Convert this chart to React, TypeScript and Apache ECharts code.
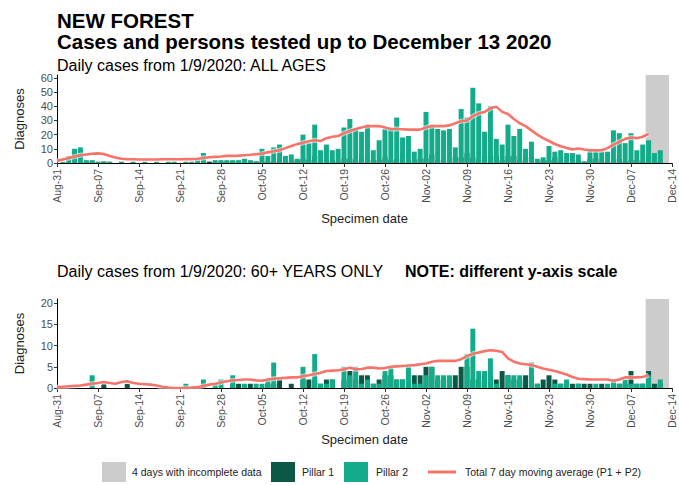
import React, { useEffect, useRef } from 'react';
import * as echarts from 'echarts';

// Day index 0 = 31 Aug 2020
const tickLabels = ['Aug-31','Sep-07','Sep-14','Sep-21','Sep-28','Oct-05','Oct-12','Oct-19','Oct-26','Nov-02','Nov-09','Nov-16','Nov-23','Nov-30','Dec-07','Dec-14'];

// ALL AGES
const allPillar1 = [
  0,0,0,0,0,1,1,
  0,1,0,0,0,0,0,
  0,0,0,0,0,0,0,
  0,0,0,0,0,1,0,
  1,1,1,1,1,1,1,
  1,1,1,2,1,1,2,
  3,2,5,1,2,2,1,
  3,3,2,6,3,2,2,
  4,2,3,6,2,2,3,
  3,6,2,3,2,4,4,
  7,4,2,5,5,5,2,
  5,5,2,4,4,1,2,
  2,4,1,1,1,2,1,
  3,3,1,1,2,3,1,
  2,2,1,4,1,1,0,
];
const allPillar2 = [
  0,1,5,10,11,2,2,
  1,1,1,0,1,0,1,
  0,1,0,1,0,1,1,
  0,1,1,2,7,0,2,
  2,2,2,2,3,2,1,
  10,5,11,13,5,6,3,
  20,14,27,9,13,9,10,
  25,31,24,22,27,9,16,
  24,24,32,18,19,8,10,
  36,27,24,23,24,11,38,
  32,53,42,22,40,17,13,
  27,19,24,10,15,3,4,
  12,8,9,7,7,6,1,
  9,9,8,8,23,21,14,
  21,9,13,16,7,9,0,
];
const allMovingAvg = [
  1.5,2.5,3.5,4.5,5.5,6,6.5,
  6.8,6.3,5,3.8,3,2.7,2.6,
  2.5,2.5,2.5,2.5,2.6,2.6,2.6,
  2.6,2.7,2.7,3,3.5,4,4.3,
  4.6,5,5,5.2,5.5,5.8,6.2,
  6.6,7.5,8.3,9,10.5,12,13.3,
  14.3,15.3,16,15.5,17.5,18.5,19,
  21,22.5,24,25,26,26,26,
  25,24,24,23.8,23.5,23.5,23.5,
  25,26,26,26,26.5,28,29.5,
  30,33,35,36,38.5,39.7,36,
  34.5,31,28,26,23,20,17.5,
  15.5,13.4,11.8,10.5,9.6,10.2,9.5,
  9,9,9,10.5,13,15,17,
  18,17.5,18.5,20.5,
];

// 60+ ONLY
const oldPillar1 = [
  0,0,0,0,0,0,0,
  0,1,0,0,0,1,0,
  0,0,0,0,0,0,0,
  0,0,0,0,0,0,0,
  0,0,1,1,0,1,0,
  0,1,1,2,0,1,0,
  2,2,2,1,2,2,0,
  2,4,2,3,3,1,2,
  3,3,2,2,2,3,3,
  5,5,2,2,2,3,5,
  5,2,2,3,3,2,4,
  3,2,2,3,3,1,2,
  3,2,1,1,1,1,1,
  1,0,1,0,1,1,1,
  4,1,1,4,1,1,0,
];
const oldPillar2 = [
  0,0,0,0,0,0,3,
  0,0,0,0,0,0,0,
  0,0,0,0,0,0,0,
  0,1,0,0,2,0,1,
  2,0,3,0,1,0,1,
  1,2,6,0,0,0,0,
  5,0,8,1,1,2,0,
  5,3,5,1,2,1,1,
  4,5,2,2,5,1,1,
  3,5,3,3,3,0,0,
  8,14,4,4,7,1,0,
  3,3,3,0,6,1,0,
  0,1,1,2,0,1,0,
  0,1,0,1,2,1,2,
  1,1,1,3,0,2,0,
];
const oldMovingAvg = [
  0.2,0.3,0.4,0.5,0.6,0.8,1.0,
  1.2,1.4,1.2,1.0,1.4,1.6,1.2,
  1.0,0.9,0.8,0.6,0.3,0.1,0,
  0,0,0.1,0.2,0.5,0.8,1.0,
  1.3,1.6,1.8,1.9,2.0,2.0,1.8,
  1.7,2.0,2.2,2.3,2.4,2.5,2.5,
  2.8,3.0,3.3,3.6,4.0,4.1,4.2,
  4.4,4.8,4.4,4.5,4.8,4.8,4.6,
  4.7,5.0,5.1,5.2,5.3,5.4,5.6,
  5.8,6.2,6.4,6.4,6.4,6.4,6.8,
  7.5,8.1,8.4,8.7,8.9,8.8,8.5,
  7.0,6.2,5.8,5.6,5.4,5.0,4.6,
  4.3,4.0,3.6,3.2,2.6,2.2,2.1,
  2.0,2.0,2.0,2.0,1.7,2.0,2.5,
  2.5,2.5,2.6,3.0,
];

const incompleteRange = [100.5, 104.5];
const topTicks = [0, 10, 20, 30, 40, 50, 60];
const bottomTicks = [0, 5, 10, 15, 20];

const DARK = '#0b5846';
const TEAL = '#13ab8a';
const GREY = '#cccccc';
const RED = '#f8746a';
const FONT = '"Liberation Sans", Arial, sans-serif';

const pairs = (arr: number[]) => arr.map((v, i) => [i, v]);

function buildSeries(idx: number, p1: number[], p2: number[], ma: number[], yMax: number) {
  return [
    {
      name: 'Pillar 1', type: 'bar', xAxisIndex: idx, yAxisIndex: idx, stack: 's' + idx,
      barWidth: 5, data: pairs(p1), itemStyle: { color: DARK }, z: 2,
      markArea: {
        silent: true, z: 1,
        itemStyle: { color: GREY },
        data: [[{ xAxis: incompleteRange[0], yAxis: 0 }, { xAxis: incompleteRange[1], yAxis: yMax }]],
      },
    },
    {
      name: 'Pillar 2', type: 'bar', xAxisIndex: idx, yAxisIndex: idx, stack: 's' + idx,
      barWidth: 5, data: pairs(p2), itemStyle: { color: TEAL }, z: 2,
    },
    {
      name: 'halo', type: 'line', xAxisIndex: idx, yAxisIndex: idx, data: pairs(ma),
      symbol: 'none', lineStyle: { color: 'rgba(255,255,255,0.55)', width: 5 }, z: 4,
    },
    {
      name: 'Total 7 day moving average (P1 + P2)', type: 'line', xAxisIndex: idx, yAxisIndex: idx,
      data: pairs(ma), symbol: 'none', lineStyle: { color: RED, width: 2.6 }, z: 5,
    },
  ];
}

function xAxis(idx: number, gap: number) {
  return {
    type: 'value', gridIndex: idx, min: 0, max: 105, interval: 7,
    name: 'Specimen date', nameLocation: 'middle', nameGap: gap,
    nameTextStyle: { fontSize: 13, color: '#222', fontFamily: FONT },
    axisLine: { show: true, lineStyle: { color: '#000', width: 1 } },
    axisTick: { show: true, length: 4, lineStyle: { color: '#333' } },
    splitLine: { show: false },
    axisLabel: {
      rotate: 90, fontSize: 10.5, color: '#4d4d4d', margin: 6, fontFamily: FONT,
      formatter: (v: number) => tickLabels[Math.round(v / 7)] ?? '',
    },
  };
}

function yAxis(idx: number, max: number, ticks: number[]) {
  return {
    type: 'value', gridIndex: idx, min: 0, max,
    name: 'Diagnoses', nameLocation: 'middle', nameGap: 31, nameRotate: 90,
    nameTextStyle: { fontSize: 13, color: '#222', fontFamily: FONT },
    axisLine: { show: true, lineStyle: { color: '#000', width: 1 } },
    axisTick: { show: true, length: 3, lineStyle: { color: '#333' }, customValues: ticks },
    splitLine: { show: false },
    axisLabel: { fontSize: 11, color: '#4d4d4d', margin: 4, fontFamily: FONT, customValues: ticks },
  };
}

export default function App() {
  const ref = useRef<HTMLDivElement>(null);
  useEffect(() => {
    if (!ref.current) return;
    const chart = echarts.init(ref.current, undefined, { renderer: 'svg' });
    const legendY = 462;
    const legendText = (x: number, text: string) => ({
      type: 'text', left: x, top: legendY + 4,
      style: { text, fontSize: 10.5, fill: '#222', fontFamily: FONT },
    });
    const ttl = (text: string, left: number, top: number, size: number, bold: boolean) => ({
      text, left, top, padding: 0,
      textStyle: { fontSize: size, fontWeight: bold ? 'bold' : 'normal', color: '#000', fontFamily: FONT },
    });
    chart.setOption({
      animation: false,
      backgroundColor: '#fff',
      textStyle: { fontFamily: FONT },
      title: [
        ttl('NEW FOREST', 57, 10, 20.5, true),
        ttl('Cases and persons tested up to December 13 2020', 57, 31, 20.5, true),
        ttl('Daily cases from 1/9/2020: ALL AGES', 57, 57, 16, false),
        ttl('Daily cases from 1/9/2020: 60+ YEARS ONLY', 57, 263, 16, false),
        ttl('NOTE: different y-axis scale', 405, 263, 16, true),
      ],
      grid: [
        { left: 57, top: 75, width: 615, height: 88 },
        { left: 57, top: 299, width: 615, height: 89 },
      ],
      xAxis: [xAxis(0, 49), xAxis(1, 45)],
      yAxis: [yAxis(0, 62, topTicks), yAxis(1, 21, bottomTicks)],
      series: [
        ...buildSeries(0, allPillar1, allPillar2, allMovingAvg, 62),
        ...buildSeries(1, oldPillar1, oldPillar2, oldMovingAvg, 21),
      ],
      graphic: [
        { type: 'rect', left: 102, top: legendY, shape: { width: 24, height: 20 }, style: { fill: GREY } },
        legendText(132, '4 days with incomplete data'),
        { type: 'rect', left: 271, top: legendY, shape: { width: 24, height: 20 }, style: { fill: DARK } },
        legendText(302, 'Pillar 1'),
        { type: 'rect', left: 344, top: legendY, shape: { width: 24, height: 20 }, style: { fill: TEAL } },
        legendText(376, 'Pillar 2'),
        { type: 'line', shape: { x1: 428, y1: legendY + 10, x2: 456, y2: legendY + 10 }, style: { stroke: RED, lineWidth: 3 } },
        legendText(465, 'Total 7 day moving average (P1 + P2)'),
      ],
    });
    return () => chart.dispose();
  }, []);
  return <div ref={ref} style={{ position: 'fixed', left: 0, top: 0, width: 679, height: 485 }} />;
}
